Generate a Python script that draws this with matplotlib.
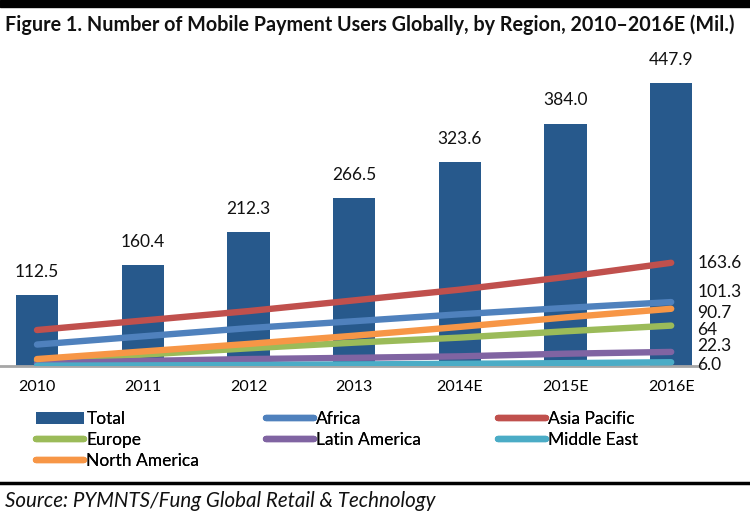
import matplotlib
matplotlib.use("Agg")
import matplotlib.pyplot as plt
import numpy as np

years = ["2010", "2011", "2012", "2013", "2014E", "2015E", "2016E"]
total = [112.5, 160.4, 212.3, 266.5, 323.6, 384.0, 447.9]
africa = [34, 47, 60, 71, 82, 92, 101.3]
asia_pacific = [57, 72, 87, 104, 121, 141, 163.6]
europe = [9, 18, 28, 37, 45, 55, 64]
latin_america = [4, 8, 11, 13, 15.3, 19.5, 22.3]
middle_east = [0.5, 1.0, 1.5, 2.5, 3.5, 4.5, 6.0]
north_america = [11, 23, 35, 48, 62, 77, 90.7]
end_labels = ["163.6", "101.3", "90.7", "64", "22.3", "6.0"]

FONT = ["Lato", "DejaVu Sans"]
plt.rcParams['font.family'] = FONT

W, H = 750, 520
fig = plt.figure(figsize=(W / 100, H / 100), dpi=100)

# axes in pixel coordinates
ax_l, ax_r, ax_t, ax_b = 0, 700, 50.5, 366
ax = fig.add_axes([ax_l / W, 1 - ax_b / H, (ax_r - ax_l) / W, (ax_b - ax_t) / H])

x = np.arange(len(years))
bar_col = "#27598c"
ax.bar(x, total, width=0.4, color=bar_col, label="Total", zorder=2)
for xi, v in zip(x, total):
    ax.annotate(f"{v:.1f}", (xi, v), xytext=(0, 11), textcoords="offset points",
                ha="center", va="bottom", fontsize=12.5, color="#111111")

series = [
    ("Africa", africa, "#4f81bd"),
    ("Asia Pacific", asia_pacific, "#c0504d"),
    ("Europe", europe, "#9bbb59"),
    ("Latin America", latin_america, "#8064a2"),
    ("Middle East", middle_east, "#4bacc6"),
    ("North America", north_america, "#f79646"),
]
handles = {}
for name, vals, col in series:
    (ln,) = ax.plot(x, vals, color=col, lw=4.6, solid_capstyle="round", zorder=3, label=name)
    handles[name] = ln

# end labels, offset (points) to avoid overlap
label_series = [asia_pacific, africa, north_america, europe, latin_america, middle_east]
label_dy = [0, 7, -3, -3, 4, -2]
for lab, vals, dy in zip(end_labels, label_series, label_dy):
    ax.annotate(lab, (x[-1], vals[-1]), xytext=(19, dy), textcoords="offset points",
                ha="left", va="center", fontsize=12.5, color="#111111", annotation_clip=False)

ax.set_xlim(-0.35, -0.35 + (ax_r - ax_l) / 105.7)
ax.set_ylim(0, 500)
ax.set_yticks([])
ax.set_xticks(x)
ax.set_xticklabels(years, fontsize=11.5)
ax.tick_params(axis="x", length=0, pad=10)
for s in ["top", "right", "left"]:
    ax.spines[s].set_visible(False)
ax.spines["bottom"].set_color("#a6a6a6")
ax.spines["bottom"].set_linewidth(2)
ax.patch.set_alpha(0)

bar_handle = ax.containers[0]
columns = [
    ([bar_handle, handles["Europe"], handles["North America"]], ["Total", "Europe", "North America"], 36),
    ([handles["Africa"], handles["Latin America"]], ["Africa", "Latin America"], 266),
    ([handles["Asia Pacific"], handles["Middle East"]], ["Asia Pacific", "Middle East"], 498),
]
for hs, ls, px in columns:
    lg = fig.legend(hs, ls, loc="upper left",
                    bbox_to_anchor=(px / W, 1 - 411 / H), frameon=False,
                    fontsize=12.5, handlelength=2.75, handletextpad=0.15,
                    labelspacing=0.3, borderaxespad=0, borderpad=0)
    fig.add_artist(lg)

# title and decorations
fig.patches.append(plt.Rectangle((0, 1 - 7 / H), 1, 7 / H, transform=fig.transFigure,
                                 color="black", zorder=0))
fig.text(5 / W, 1 - 25 / H, "Figure 1. Number of Mobile Payment Users Globally, by Region, 2010–2016E (Mil.)",
         fontsize=14.2, fontweight="bold", ha="left", va="center", color="#111111")
fig.add_artist(plt.Line2D([0, 1], [1 - 483 / H, 1 - 483 / H], transform=fig.transFigure,
                          color="black", lw=2.5))
fig.text(5 / W, 1 - 501 / H, "Source: PYMNTS/Fung Global Retail & Technology",
         fontsize=14.8, fontstyle="italic", ha="left", va="center", color="#111111")

fig.savefig("out.png", dpi=100)
